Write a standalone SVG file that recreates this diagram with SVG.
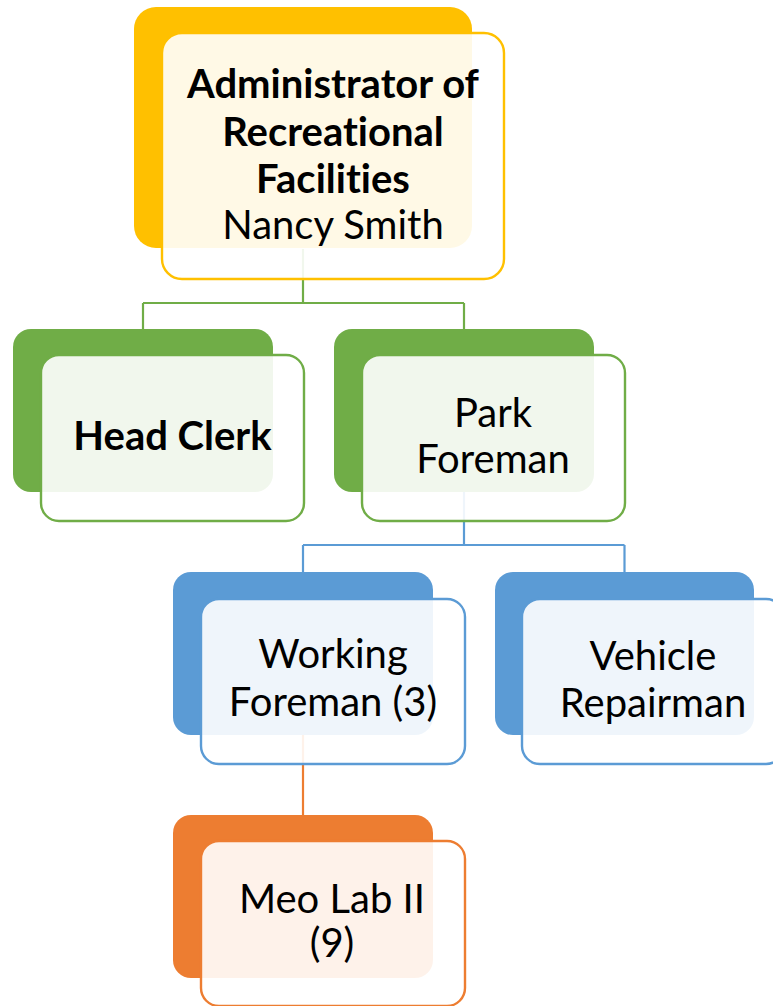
<svg xmlns="http://www.w3.org/2000/svg" width="773" height="1006" viewBox="0 0 773 1006">
  <style>
    .lbl { font-family: Lato, "Liberation Sans", sans-serif; font-size: 40px; fill: #000; text-anchor: middle; font-variant-ligatures: none; font-feature-settings: "liga" 0, "dlig" 0; }
    .b { font-weight: bold; }
    .front { fill: #fff; fill-opacity: 0.9; stroke-width: 2.4; }
    .conn { fill: none; stroke-width: 2.2; }
  </style>
  <rect width="773" height="1006" fill="#fff"/>

  <!-- connectors -->
  <g id="connectors">
    <path class="conn" stroke="#70AD47" d="M303 249 V303 M143 303 H464 M143 303 V329 M464 303 V329"/>
    <path class="conn" stroke="#5B9BD5" d="M464 492 V545 M303 545 H624.5 M303 545 V572 M624.5 545 V572"/>
    <path class="conn" stroke="#ED7D31" d="M303 735 V815"/>
  </g>

  <!-- top: administrator -->
  <g id="node-admin">
    <rect x="134" y="7" width="338" height="241" rx="22" fill="#FFC000"/>
    <rect class="front" x="162" y="33" width="342" height="246" rx="20" stroke="#FFC000"/>
    <text class="lbl b" x="333" y="98">Administrator of</text>
    <text class="lbl b" x="333" y="146">Recreational</text>
    <text class="lbl b" x="333" y="193">Facilities</text>
    <text class="lbl" x="333" y="239">Nancy Smith</text>
  </g>

  <!-- second level -->
  <g id="node-head-clerk">
    <rect x="13" y="329" width="260" height="163" rx="18" fill="#70AD47"/>
    <rect class="front" x="41" y="355" width="263" height="166" rx="18" stroke="#70AD47"/>
    <text class="lbl b" x="172.5" y="450">Head Clerk</text>
  </g>

  <g id="node-park-foreman">
    <rect x="334" y="329" width="260" height="163" rx="18" fill="#70AD47"/>
    <rect class="front" x="362" y="355" width="263" height="166" rx="18" stroke="#70AD47"/>
    <text class="lbl" x="493" y="427">Park</text>
    <text class="lbl" x="493" y="473">Foreman</text>
  </g>

  <!-- third level -->
  <g id="node-working-foreman">
    <rect x="173" y="572" width="260" height="163" rx="18" fill="#5B9BD5"/>
    <rect class="front" x="201" y="599" width="264" height="165" rx="18" stroke="#5B9BD5"/>
    <text class="lbl" x="333" y="668">Working</text>
    <text class="lbl" x="333" y="716">Foreman (3)</text>
  </g>

  <g id="node-vehicle-repairman">
    <rect x="495" y="572" width="259" height="163" rx="18" fill="#5B9BD5"/>
    <rect class="front" x="522" y="599" width="262" height="165" rx="18" stroke="#5B9BD5"/>
    <text class="lbl" x="653" y="670">Vehicle</text>
    <text class="lbl" x="653" y="717">Repairman</text>
  </g>

  <!-- fourth level -->
  <g id="node-meo-lab">
    <rect x="173" y="815" width="260" height="163" rx="18" fill="#ED7D31"/>
    <rect class="front" x="201" y="841" width="264" height="165" rx="18" stroke="#ED7D31"/>
    <text class="lbl" x="332" y="913">Meo Lab II</text>
    <text class="lbl" x="332" y="957">(9)</text>
  </g>
</svg>
